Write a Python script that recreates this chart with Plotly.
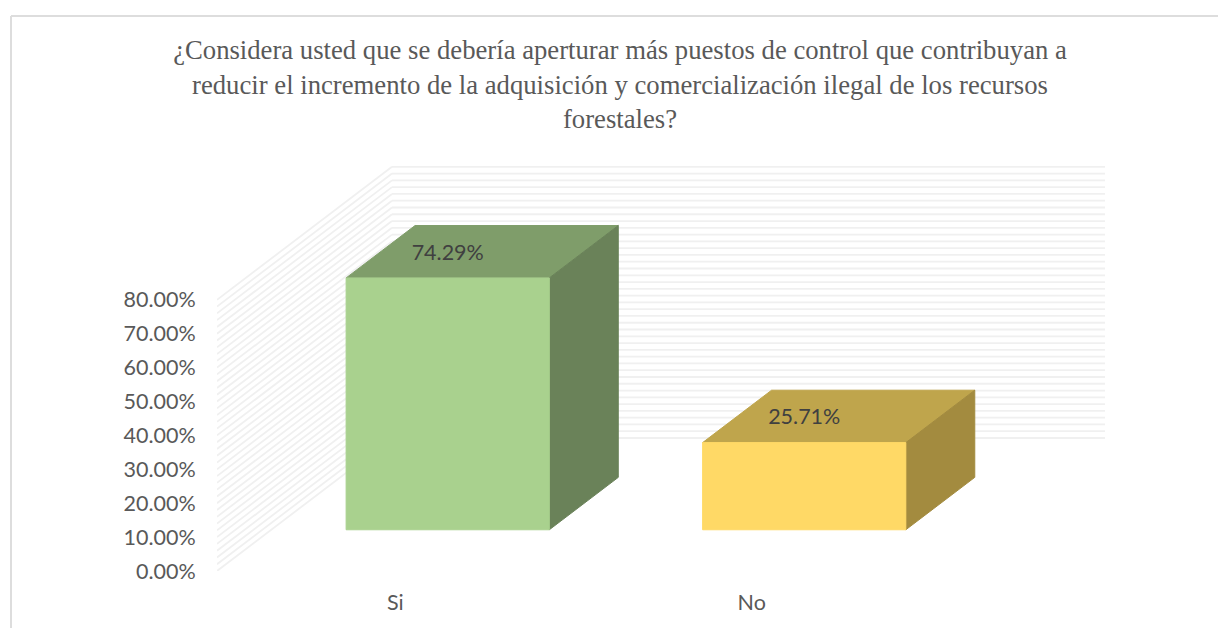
import plotly.graph_objects as go

# ---- data ----
categories = ["Si", "No"]
values = [74.29, 25.71]
value_labels = ["74.29%", "25.71%"]
tick_values = [0, 10, 20, 30, 40, 50, 60, 70, 80]
tick_labels = ["0.00%", "10.00%", "20.00%", "30.00%", "40.00%", "50.00%", "60.00%", "70.00%", "80.00%"]
minor_grid = list(range(0, 82, 2))
category_pos = [0.5, 1.5]
front_colors = ["#A9D18E", "#FFD966"]
top_colors = ["#7F9D6A", "#BFA54C"]
side_colors = ["#6A8259", "#A38B3F"]
title_text = ("¿Considera usted que se debería aperturar más puestos de control que contribuyan a<br>"
              "reducir el incremento de la adquisición y comercialización ilegal de los recursos<br>"
              "forestales?")

# ---- oblique 3-D projection in axis units ----
W, H = 1218, 628
LEFT, BASE = 217, 571
PX_CAT, PX_VAL = 356.5, 3.39
DEPTH_DX, DEPTH_DY = 175, 133
BAR_W = 0.570
BAR_SHIFT = -0.005
BAR_D0, BAR_D1 = 0.31, 0.704


def project(cat, val, depth):
    return cat + depth * DEPTH_DX / PX_CAT, val + depth * DEPTH_DY / PX_VAL


def polygon(points):
    xy = [project(*p) for p in points]
    xy.append(xy[0])
    return [p[0] for p in xy], [p[1] for p in xy]


fig = go.Figure()

# walls: 2 % grid on back wall and side wall
gx, gy = [], []
for v in minor_grid:
    for a, b in (((0, v, 0), (0, v, 1)), ((0, v, 1), (2, v, 1))):
        pa, pb = project(*a), project(*b)
        gx += [pa[0], pb[0], None]
        gy += [pa[1], pb[1], None]
fig.add_trace(go.Scatter(x=gx, y=gy, mode="lines", line=dict(color="#F0F0F0", width=1.8),
                         hoverinfo="skip", showlegend=False))

# bars
for i, (c, v) in enumerate(zip(category_pos, values)):
    l, r = c + BAR_SHIFT - BAR_W / 2, c + BAR_SHIFT + BAR_W / 2
    faces = [
        (top_colors[i], [(l, v, BAR_D0), (r, v, BAR_D0), (r, v, BAR_D1), (l, v, BAR_D1)]),
        (side_colors[i], [(r, 0, BAR_D0), (r, 0, BAR_D1), (r, v, BAR_D1), (r, v, BAR_D0)]),
        (front_colors[i], [(l, 0, BAR_D0), (r, 0, BAR_D0), (r, v, BAR_D0), (l, v, BAR_D0)]),
    ]
    for color, pts in faces:
        x, y = polygon(pts)
        fig.add_trace(go.Scatter(x=x, y=y, mode="lines", fill="toself", fillcolor=color,
                                 line=dict(color=color, width=1), hoverinfo="skip", showlegend=False))

# data labels
lab = [project(c + BAR_SHIFT, v + 7, BAR_D0) for c, v in zip(category_pos, values)]
fig.add_trace(go.Scatter(x=[p[0] for p in lab], y=[p[1] for p in lab], mode="text",
                         text=value_labels, textposition="middle center",
                         textfont=dict(family="Lato", size=21.5, color="#404040"),
                         hoverinfo="skip", showlegend=False))

border = "#DDDDDD"
fig.update_layout(
    width=W, height=H, autosize=False,
    margin=dict(l=0, r=0, t=0, b=0),
    paper_bgcolor="white", plot_bgcolor="white",
    showlegend=False,
    title=dict(text=title_text, x=620 / W, xanchor="center", xref="paper",
               y=1 - 59 / H, yanchor="top", yref="paper",
               font=dict(family="Liberation Serif", size=26.7, color="#595959")),
    xaxis=dict(domain=[LEFT / W, 1], range=[0, (W - LEFT) / PX_CAT], automargin=False,
               tickmode="array", tickvals=category_pos, ticktext=categories,
               ticks="outside", ticklen=12, tickcolor="rgba(0,0,0,0)",
               showgrid=False, zeroline=False, showline=False,
               tickfont=dict(family="Lato", size=21.5, color="#595959")),
    yaxis=dict(domain=[(H - BASE) / H, 1], range=[0, BASE / PX_VAL], automargin=False,
               tickmode="array", tickvals=tick_values, ticktext=tick_labels,
               ticks="outside", ticklen=16, tickcolor="rgba(0,0,0,0)",
               showgrid=False, zeroline=False, showline=False,
               tickfont=dict(family="Lato", size=21.5, color="#595959")),
    shapes=[
        dict(type="line", xref="paper", yref="paper", x0=11 / W, x1=11 / W, y0=0, y1=1 - 16 / H,
             line=dict(color=border, width=2)),
        dict(type="line", xref="paper", yref="paper", x0=11 / W, x1=1, y0=1 - 16 / H, y1=1 - 16 / H,
             line=dict(color=border, width=2)),
    ],
)

fig.write_html("out.html", config={"displayModeBar": False, "responsive": False},
               default_width="1218px", default_height="628px",
               post_script="document.body.style.margin='0';document.body.style.overflow='hidden';")
